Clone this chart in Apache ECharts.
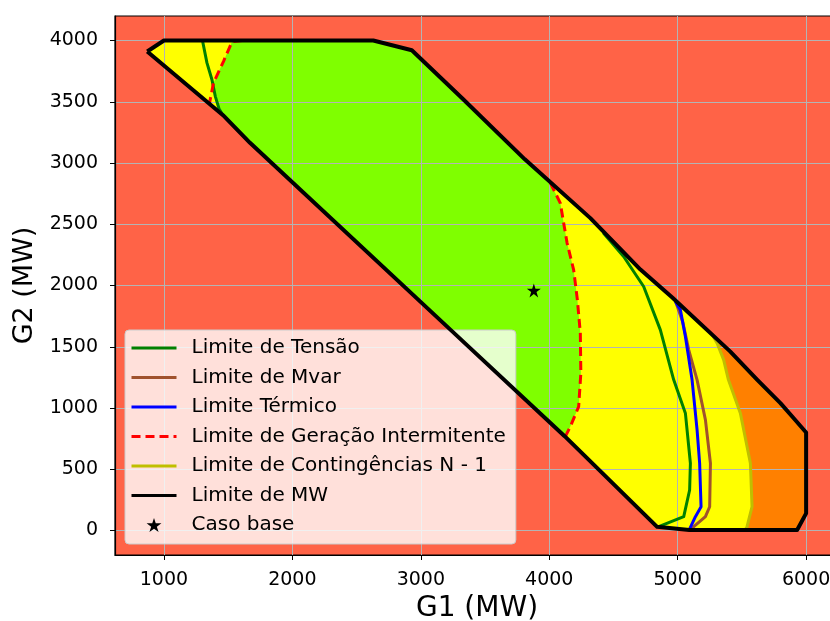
<!DOCTYPE html>
<html>
<head>
<meta charset="utf-8">
<script src="https://cdn.jsdelivr.net/npm/echarts@6/dist/echarts.min.js"></script>
<style>
html,body{margin:0;padding:0;background:#fff;}
#chart{width:830px;height:621px;}
</style>
</head>
<body>
<div id="chart"></div>
<script>
// ---- Data (G1 MW, G2 MW) ----
const xTicks = [1000, 2000, 3000, 4000, 5000, 6000];
const yTicks = [0, 500, 1000, 1500, 2000, 2500, 3000, 3500, 4000];

// Limite de MW (closed boundary)
const mwG1 = [870, 1000, 2630, 2930, 3330, 3810, 4320, 4710, 4960, 5410, 5620, 5800, 5900, 6000, 6000, 5930, 5090, 4840, 4120, 3230, 1670, 1460, 870];
const mwG2 = [3910, 4000, 4000, 3920, 3520, 3030, 2550, 2130, 1900, 1460, 1230, 1040, 920, 800, 140, 4, 4, 30, 770, 1640, 3165, 3390, 3910];

// Secure (green) region
const greenG1 = [1610, 2630, 2930, 3330, 3810, 4009, 4086, 4139, 4190, 4219, 4242, 4246, 4229, 4164, 4125, 3230, 1670, 1460, 1430, 1400, 1382, 1386, 1464, 1530];
const greenG2 = [4000, 4000, 3920, 3520, 3030, 2837, 2673, 2346, 2128, 1883, 1611, 1284, 1011, 848, 766, 1640, 3165, 3390, 3440, 3544, 3630, 3654, 3830, 3990];

// Region beyond N-1 contingency limit (orange)
const orangeG1 = [5270, 5307, 5358, 5395, 5488, 5566, 5579, 5540, 5525, 5930, 6000, 6000, 5900, 5800, 5620, 5410];
const orangeG2 = [1595, 1529, 1393, 1230, 958, 549, 194, 31, 4, 4, 140, 800, 920, 1040, 1230, 1460];

// Limite de Tensão (two branches)
const tensaoLeftG1 = [1300, 1335, 1374, 1400, 1430, 1460];
const tensaoLeftG2 = [4000, 3817, 3680, 3544, 3440, 3390];
const tensaoRightG1 = [4420, 4579, 4735, 4865, 4969, 5060, 5099, 5093, 5047, 4852];
const tensaoRightG2 = [2430, 2237, 1992, 1638, 1230, 958, 549, 331, 113, 31];

// Limite de Mvar
const mvarG1 = [4985, 5040, 5086, 5151, 5216, 5255, 5249, 5216, 5125, 5110];
const mvarG2 = [1865, 1700, 1475, 1230, 903, 549, 194, 113, 31, 5];

// Limite Térmico
const termicoG1 = [4982, 5021, 5060, 5112, 5151, 5171, 5182, 5138, 5090];
const termicoG2 = [1869, 1801, 1583, 1230, 821, 549, 194, 113, 5];

// Limite de Geração Intermitente (two branches)
const intermLeftG1 = [1610, 1530, 1464, 1386, 1355];
const intermLeftG2 = [4000, 3990, 3830, 3654, 3490];
const intermRightG1 = [4009, 4086, 4139, 4190, 4219, 4242, 4246, 4229, 4164, 4125];
const intermRightG2 = [2837, 2673, 2346, 2128, 1883, 1611, 1284, 1011, 848, 766];

// Limite de Contingências N - 1
const contG1 = [5270, 5307, 5358, 5395, 5488, 5566, 5579, 5540, 5525];
const contG2 = [1595, 1529, 1393, 1230, 958, 549, 194, 31, 4];

// Caso base
const casoBase = [3880, 1960];

const names = ['Limite de Tensão', 'Limite de Mvar', 'Limite Térmico', 'Limite de Geração Intermitente', 'Limite de Contingências N - 1', 'Limite de MW', 'Caso base'];

// ---- helpers ----
const zip = (a, b) => a.map((v, i) => [v, b[i]]);
const FONT = 'DejaVu Sans';

function fillSeries(g1, g2, color, z) {
  const pts = zip(g1, g2);
  return {
    type: 'custom', silent: true, z: z, data: pts,
    renderItem: function (params, api) {
      if (params.dataIndex !== 0) return null;
      return {
        type: 'polygon',
        shape: { points: pts.map(p => api.coord(p)) },
        style: { fill: color }
      };
    }
  };
}
function lineSeries(name, g1, g2, color, width, type, z) {
  return {
    type: 'line', name: name, data: zip(g1, g2), symbol: 'none', z: z,
    lineStyle: { color: color, width: width, type: type || 'solid', cap: 'butt', join: 'round' },
    itemStyle: { color: color },
    silent: true, clip: true
  };
}

const starPath = 'path://M50,2 L61.2,36.3 L97.6,36.3 L68.2,57.6 L79.4,92 L50,70.8 L20.6,92 L31.8,57.6 L2.4,36.3 L38.8,36.3 Z';

const legendData = names.map((n, i) => i < 6
  ? { name: n, itemStyle: { opacity: 0 }, lineStyle: { width: 3 } }
  : { name: n, itemStyle: { opacity: 1 } });

const chart = echarts.init(document.getElementById('chart'), null, { renderer: 'canvas' });
const option = {
  animation: false,
  backgroundColor: '#ffffff',
  grid: {
    left: 115, top: 16, right: -9, bottom: 66,
    containLabel: false, outerBoundsMode: 'none',
    show: true, backgroundColor: '#FF6347', borderColor: '#000', borderWidth: 1.2, z: -5
  },
  xAxis: {
    type: 'value', min: 619, max: 6256,
    name: 'G1 (MW)', nameLocation: 'middle', nameGap: 38,
    nameTextStyle: { fontFamily: FONT, fontSize: 28, color: '#000' },
    axisLine: { show: true, onZero: false, lineStyle: { color: '#000', width: 1.2 } },
    axisTick: { show: true, length: 5, lineStyle: { color: '#000', width: 1 }, customValues: xTicks },
    axisLabel: { fontFamily: FONT, fontSize: 19, color: '#000', margin: 16, customValues: xTicks,
                 formatter: v => String(v) },
    splitLine: { show: true, lineStyle: { color: '#b4b4b4', width: 1 } }
  },
  yAxis: {
    type: 'value', min: -200, max: 4200,
    name: 'G2 (MW)', nameLocation: 'middle', nameGap: 70,
    nameTextStyle: { fontFamily: FONT, fontSize: 27, color: '#000' },
    axisLine: { show: true, onZero: false, lineStyle: { color: '#000', width: 1.2 } },
    axisTick: { show: true, length: 5, lineStyle: { color: '#000', width: 1 }, customValues: yTicks },
    axisLabel: { fontFamily: FONT, fontSize: 19, color: '#000', margin: 17, customValues: yTicks,
                 formatter: v => String(v) },
    splitLine: { show: true, lineStyle: { color: '#b4b4b4', width: 1 } }
  },
  legend: {
    orient: 'vertical', left: 125, top: 330,
    itemWidth: 45, itemHeight: 14, itemGap: 9.5,
    backgroundColor: 'rgba(255,255,255,0.8)', borderColor: '#cccccc', borderWidth: 1, borderRadius: 4,
    padding: [8, 10, 9, 5],
    selectedMode: false,
    lineStyle: { width: 3 },
    textStyle: { fontFamily: FONT, fontSize: 20, color: '#000', lineHeight: 20, padding: [0, 0, 0, 10] },
    data: legendData
  },
  series: [
    fillSeries(mwG1, mwG2, '#FFFF00', -3),
    fillSeries(greenG1, greenG2, '#7FFF00', -2),
    fillSeries(orangeG1, orangeG2, '#FF8000', -2),
    lineSeries(names[0], tensaoLeftG1, tensaoLeftG2, '#008000', 3, 'solid', 3),
    lineSeries(names[0], tensaoRightG1, tensaoRightG2, '#008000', 3, 'solid', 3),
    lineSeries(names[1], mvarG1, mvarG2, '#A0522D', 3, 'solid', 3),
    lineSeries(names[2], termicoG1, termicoG2, '#0000FF', 3, 'solid', 3),
    lineSeries(names[3], intermLeftG1, intermLeftG2, '#FF0000', 3, [9, 5], 3),
    lineSeries(names[3], intermRightG1, intermRightG2, '#FF0000', 3, [9, 5], 3),
    lineSeries(names[4], contG1, contG2, '#BFBF00', 3, 'solid', 3),
    lineSeries(names[5], mwG1, mwG2, '#000000', 4, 'solid', 4),
    {
      type: 'scatter', name: names[6], data: [casoBase], symbol: starPath, symbolSize: 14,
      itemStyle: { color: '#000', opacity: 1 }, z: 5, silent: true
    }
  ]
};
chart.setOption(option);
</script>
</body>
</html>
